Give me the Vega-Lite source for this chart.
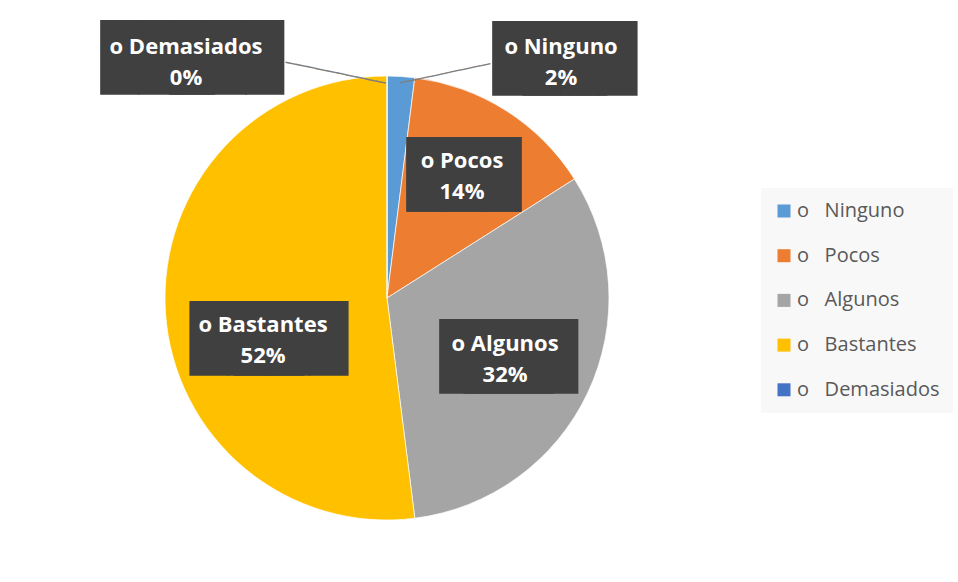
{
  "$schema": "https://vega.github.io/schema/vega-lite/v6.json",
  "width": 774,
  "height": 596,
  "autosize": "none",
  "padding": {"left": 0, "top": 0, "right": 184, "bottom": 0},
  "background": "#ffffff",
  "config": {"view": {"stroke": null}},
  "data": {
    "values": [
      {"idx": 1, "cat": "o Ninguno", "value": 2, "label": ["o Ninguno", "2%"]},
      {"idx": 2, "cat": "o Pocos", "value": 14, "label": ["o Pocos", "14%"]},
      {"idx": 3, "cat": "o Algunos", "value": 32, "label": ["o Algunos", "32%"]},
      {"idx": 4, "cat": "o Bastantes", "value": 52, "label": ["o Bastantes", "52%"]},
      {"idx": 5, "cat": "o Demasiados", "value": 0, "label": ["o Demasiados", "0%"]}
    ]
  },
  "encoding": {
    "theta": {"field": "value", "type": "quantitative", "stack": true},
    "order": {"field": "idx", "type": "quantitative"}
  },
  "layer": [
    {
      "mark": {"type": "arc", "outerRadius": 222, "stroke": "#ffffff", "strokeWidth": 0.7},
      "encoding": {
        "color": {
          "field": "cat", "type": "nominal",
          "scale": {
            "domain": ["o Ninguno", "o Pocos", "o Algunos", "o Bastantes", "o Demasiados"],
            "range": ["#5B9BD5", "#ED7D31", "#A5A5A5", "#FFC000", "#4472C4"]
          },
          "legend": {
            "title": null, "orient": "none", "legendX": 761, "legendY": 188,
            "padding": 13, "fillColor": "#f8f8f8",
            "symbolType": "square", "symbolSize": 169, "symbolStrokeWidth": 0,
            "labelFont": "Open Sans", "labelFontSize": 20, "labelColor": "#595959",
            "labelOffset": 3, "rowPadding": 24.7, "labelLimit": 0,
            "labelExpr": "replace(datum.label, 'o ', 'o\u00a0\u00a0\u00a0')"
          }
        }
      }
    },
    {"mark": {"type": "text", "font": "DejaVu Sans Mono", "fontSize": 17, "fill": "#7f7f7f", "align": "center", "baseline": "middle", "radius": 227.5, "angle": 11.75, "dx": -49.8, "dy": 13.4},
     "encoding": {"detail": {"field": "cat"}, "text": {"condition": {"test": "datum.cat === 'o Demasiados'", "value": "──────────"}, "value": ""}}},
    {"mark": {"type": "text", "font": "DejaVu Sans Mono", "fontSize": 17, "fill": "#7f7f7f", "align": "center", "baseline": "middle", "radius": 227.4, "angle": -12.1, "dx": 42.6, "dy": 12.2},
     "encoding": {"detail": {"field": "cat"}, "text": {"condition": {"test": "datum.cat === 'o Ninguno'", "value": "─────────"}, "value": ""}}},
    {"mark": {"type": "text", "font": "DejaVu Sans Mono", "fontSize": 63, "fill": "#404040", "align": "left", "baseline": "middle", "radius": 240, "dx": -286, "dy": 2},
     "encoding": {"detail": {"field": "cat"}, "text": {"condition": {"test": "datum.cat === 'o Demasiados'", "value": "███"}, "value": ""}}},
    {"mark": {"type": "text", "font": "DejaVu Sans Mono", "fontSize": 63, "fill": "#404040", "align": "right", "baseline": "middle", "radius": 240, "dx": -103, "dy": 2},
     "encoding": {"detail": {"field": "cat"}, "text": {"condition": {"test": "datum.cat === 'o Demasiados'", "value": "███"}, "value": ""}}},
    {"mark": {"type": "text", "font": "DejaVu Sans Mono", "fontSize": 63, "fill": "#404040", "align": "left", "baseline": "middle", "radius": 240, "dx": 91, "dy": 2.4},
     "encoding": {"detail": {"field": "cat"}, "text": {"condition": {"test": "datum.cat === 'o Ninguno'", "value": "███"}, "value": ""}}},
    {"mark": {"type": "text", "font": "DejaVu Sans Mono", "fontSize": 63, "fill": "#404040", "align": "right", "baseline": "middle", "radius": 240, "dx": 235, "dy": 2.4},
     "encoding": {"detail": {"field": "cat"}, "text": {"condition": {"test": "datum.cat === 'o Ninguno'", "value": "███"}, "value": ""}}},
    {"mark": {"type": "text", "font": "DejaVu Sans Mono", "fontSize": 63, "fill": "#404040", "align": "left", "baseline": "middle", "radius": 145, "dx": -57, "dy": 1.3},
     "encoding": {"detail": {"field": "cat"}, "text": {"condition": {"test": "datum.cat === 'o Pocos'", "value": "███"}, "value": ""}}},
    {"mark": {"type": "text", "font": "DejaVu Sans Mono", "fontSize": 63, "fill": "#404040", "align": "right", "baseline": "middle", "radius": 145, "dx": 56, "dy": 1.3},
     "encoding": {"detail": {"field": "cat"}, "text": {"condition": {"test": "datum.cat === 'o Pocos'", "value": "███"}, "value": ""}}},
    {"mark": {"type": "text", "font": "DejaVu Sans Mono", "fontSize": 63, "fill": "#404040", "align": "left", "baseline": "middle", "radius": 132, "dx": -66.5, "dy": 4.7},
     "encoding": {"detail": {"field": "cat"}, "text": {"condition": {"test": "datum.cat === 'o Algunos'", "value": "███"}, "value": ""}}},
    {"mark": {"type": "text", "font": "DejaVu Sans Mono", "fontSize": 63, "fill": "#404040", "align": "right", "baseline": "middle", "radius": 132, "dx": 71.5, "dy": 4.7},
     "encoding": {"detail": {"field": "cat"}, "text": {"condition": {"test": "datum.cat === 'o Algunos'", "value": "███"}, "value": ""}}},
    {"mark": {"type": "text", "font": "DejaVu Sans Mono", "fontSize": 63, "fill": "#404040", "align": "left", "baseline": "middle", "radius": 120, "dx": -77, "dy": 35.4},
     "encoding": {"detail": {"field": "cat"}, "text": {"condition": {"test": "datum.cat === 'o Bastantes'", "value": "███"}, "value": ""}}},
    {"mark": {"type": "text", "font": "DejaVu Sans Mono", "fontSize": 63, "fill": "#404040", "align": "right", "baseline": "middle", "radius": 120, "dx": 81, "dy": 35.4},
     "encoding": {"detail": {"field": "cat"}, "text": {"condition": {"test": "datum.cat === 'o Bastantes'", "value": "███"}, "value": ""}}},
    {"mark": {"type": "text", "font": "Open Sans", "fontWeight": "bold", "fontSize": 22, "fill": "#ffffff", "align": "center", "baseline": "middle", "lineHeight": 31, "radius": 240, "dx": -201, "dy": -11.2},
     "encoding": {"detail": {"field": "cat"}, "text": {"condition": {"test": "datum.cat === 'o Demasiados'", "field": "label"}, "value": ""}}},
    {"mark": {"type": "text", "font": "Open Sans", "fontWeight": "bold", "fontSize": 22, "fill": "#ffffff", "align": "center", "baseline": "middle", "lineHeight": 31, "radius": 240, "dx": 159, "dy": -11.7},
     "encoding": {"detail": {"field": "cat"}, "text": {"condition": {"test": "datum.cat === 'o Ninguno'", "field": "label"}, "value": ""}}},
    {"mark": {"type": "text", "font": "Open Sans", "fontWeight": "bold", "fontSize": 22, "fill": "#ffffff", "align": "center", "baseline": "middle", "lineHeight": 31, "radius": 145, "dx": -2.7, "dy": -14.8},
     "encoding": {"detail": {"field": "cat"}, "text": {"condition": {"test": "datum.cat === 'o Pocos'", "field": "label"}, "value": ""}}},
    {"mark": {"type": "text", "font": "Open Sans", "fontWeight": "bold", "fontSize": 22, "fill": "#ffffff", "align": "center", "baseline": "middle", "lineHeight": 31, "radius": 132, "dx": -1.4, "dy": -10.4},
     "encoding": {"detail": {"field": "cat"}, "text": {"condition": {"test": "datum.cat === 'o Algunos'", "field": "label"}, "value": ""}}},
    {"mark": {"type": "text", "font": "Open Sans", "fontWeight": "bold", "fontSize": 22, "fill": "#ffffff", "align": "center", "baseline": "middle", "lineHeight": 31, "radius": 120, "dx": -4.2, "dy": 19.3},
     "encoding": {"detail": {"field": "cat"}, "text": {"condition": {"test": "datum.cat === 'o Bastantes'", "field": "label"}, "value": ""}}}
  ]
}
